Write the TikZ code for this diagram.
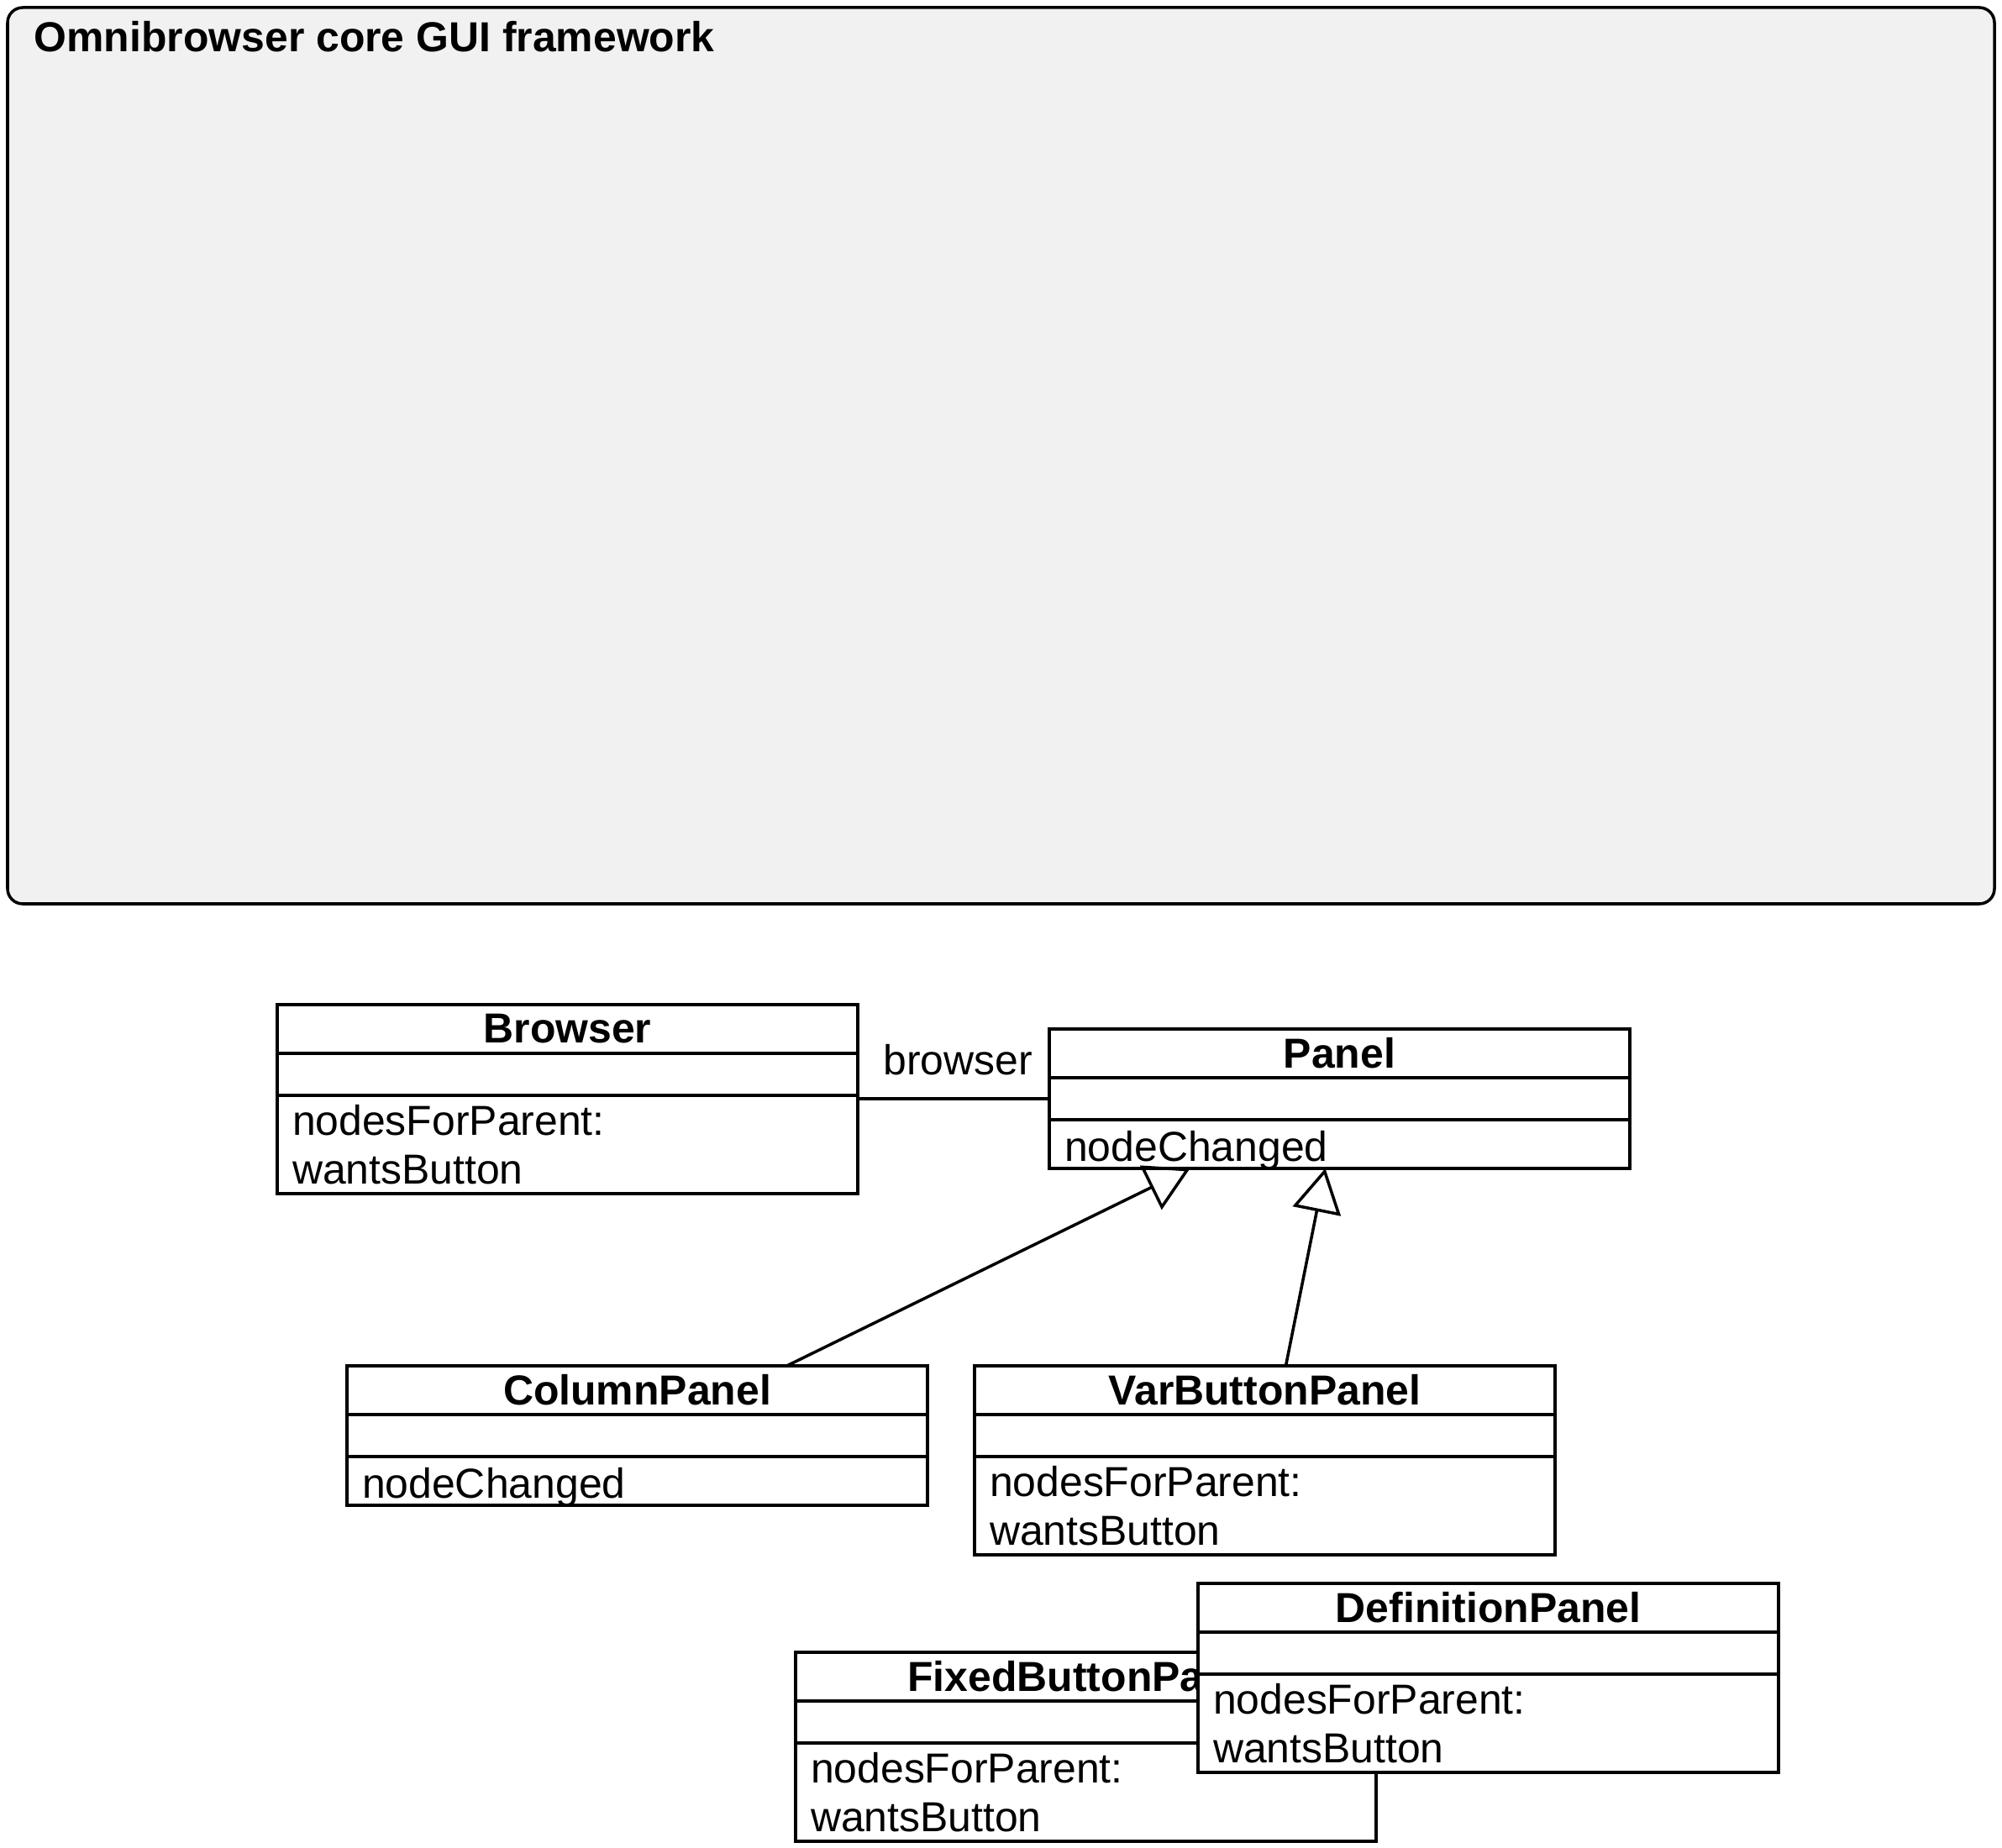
\documentclass[tikz,border=0pt]{standalone}
\usepackage{fontspec}
\setmainfont{Liberation Sans}
\usetikzlibrary{positioning,arrows.meta}
\definecolor{framegray}{RGB}{241,241,241}
\newcommand{\umlfont}{\fontsize{14.2}{16.5}\selectfont}

\begin{document}
\begin{tikzpicture}[
    line width=1pt,
    frame/.style={rectangle, draw, fill=framegray, rounded corners=0.18cm, outer sep=0pt, minimum width=23.65cm, minimum height=10.67cm},
    classname/.style={rectangle, draw, fill=white, outer sep=0pt, inner sep=0pt, minimum width=6.91cm, minimum height=0.58cm, font=\umlfont\bfseries},
    classattr/.style={rectangle, draw, fill=white, outer sep=0pt, minimum width=6.91cm, minimum height=0.50cm},
    classops/.style={rectangle, draw, fill=white, outer sep=0pt, inner xsep=0.18cm, inner ysep=0pt, text width=6.55cm, align=left, minimum height=1.17cm, font=\umlfont},
    classop/.style={classops, minimum height=0.58cm, text height=11.4pt, text depth=0pt},
    generalize/.style={-{Triangle[open, length=0.52cm, width=0.58cm]}}
]
\useasboundingbox (0,0) rectangle (23.83,-22.00);

% Paket
\node[frame, anchor=north west] (frame) at (0.09,-0.09) {};
\node[anchor=base west, inner sep=0pt, font=\umlfont\bfseries] (title) at ([xshift=0.30cm,yshift=-0.53cm]frame.north west) {Omnibrowser core GUI framework};

% Browser
\node[classname, anchor=north west] (browser) at (3.30,-11.96) {Browser};
\node[classattr, below=0pt of browser] (browserattr) {};
\node[classops, below=0pt of browserattr] (browserops) {nodesForParent:\\wantsButton};

% Panel
\node[classname, anchor=north west] (panel) at (12.49,-12.25) {Panel};
\node[classattr, below=0pt of panel] (panelattr) {};
\node[classop, below=0pt of panelattr] (panelops) {nodeChanged};

% ColumnPanel
\node[classname, anchor=north west] (column) at (4.13,-16.26) {ColumnPanel};
\node[classattr, below=0pt of column] (columnattr) {};
\node[classop, below=0pt of columnattr] (columnops) {nodeChanged};

% VarButtonPanel
\node[classname, anchor=north west] (varbutton) at (11.60,-16.26) {VarButtonPanel};
\node[classattr, below=0pt of varbutton] (varbuttonattr) {};
\node[classops, below=0pt of varbuttonattr] (varbuttonops) {nodesForParent:\\wantsButton};

% FixedButtonPanel
\node[classname, anchor=north west] (fixedbutton) at (9.47,-19.67) {FixedButtonPanel};
\node[classattr, below=0pt of fixedbutton] (fixedbuttonattr) {};
\node[classops, below=0pt of fixedbuttonattr] (fixedbuttonops) {nodesForParent:\\wantsButton};

% DefinitionPanel
\node[classname, anchor=north west] (definition) at (14.26,-18.85) {DefinitionPanel};
\node[classattr, below=0pt of definition] (definitionattr) {};
\node[classops, below=0pt of definitionattr] (definitionops) {nodesForParent:\\wantsButton};

% Verbindungen
\draw (browser.east |- panelattr.west) -- node[above=4pt, xshift=0.05cm, font=\umlfont] (browserlabel) {browser} (panelattr.west);
\draw[generalize] ([xshift=1.78cm]column.north) -- ([xshift=-1.78cm]panelops.south);
\draw[generalize] ([xshift=0.25cm]varbutton.north) -- ([xshift=-0.17cm]panelops.south);

\end{tikzpicture}
\end{document}
